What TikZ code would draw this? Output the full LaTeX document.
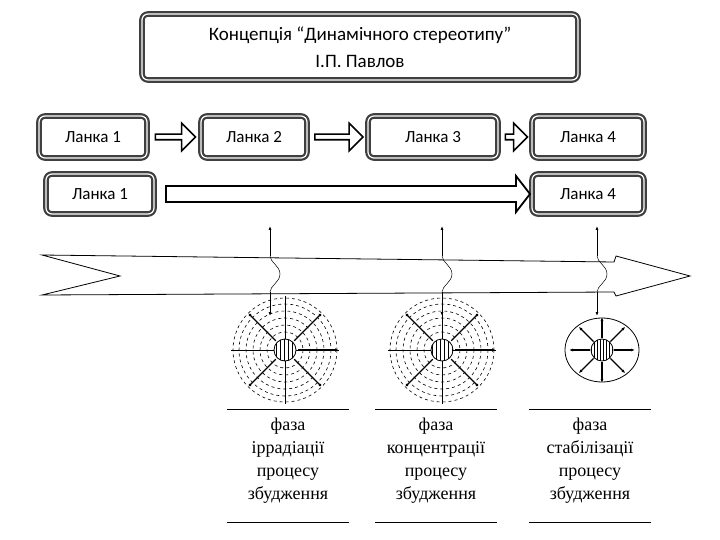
\documentclass[tikz,border=0pt]{standalone}
\usepackage{fontspec}
\setmainfont{Carlito}
\newfontfamily\serifrm{Liberation Serif}
\usetikzlibrary{shapes.arrows,arrows.meta,decorations.pathmorphing}
\begin{document}
\begin{tikzpicture}[x=1pt,y=-1pt,
  box/.style={draw=black!75,line width=2.2pt,rounded corners=6pt,double=white,double distance=1.2pt,fill=white,font=\fontsize{17}{20}\selectfont,inner sep=0pt},
  harrow/.style={draw,line width=1.6pt,fill=white,single arrow,single arrow head extend=7pt,minimum height=#1,minimum width=40pt,inner sep=2pt},
  captxt/.style={font=\serifrm\fontsize{18}{23}\selectfont,align=center},
  conn/.style={line width=1pt,-{Latex[length=4pt,width=3pt]}}]
\useasboundingbox (0,0) rectangle (720,540);
\node[box,minimum width=436pt,minimum height=66pt,align=center,font=\fontsize{19}{27}\selectfont] (t) at (360,47) {Концепція “Динамічного стереотипу”\\І.П. Павлов};
\node[box,minimum width=108pt,minimum height=42pt] (a1) at (93,137) {Ланка 1};
\node[box,minimum width=106pt,minimum height=42pt] (a2) at (254,137) {Ланка 2};
\node[box,minimum width=130pt,minimum height=42pt] (a3) at (433,137) {Ланка 3};
\node[box,minimum width=112pt,minimum height=42pt] (a4) at (588,137) {Ланка 4};
\node[box,minimum width=108pt,minimum height=40pt] (b1) at (100,194) {Ланка 1};
\node[box,minimum width=112pt,minimum height=40pt] (b4) at (588,194) {Ланка 4};
% row1 arrows
\path (a1.east) -- (a2.west) node[midway,harrow=40pt,minimum width=14pt,single arrow head extend=11pt] {};
\path (a2.east) -- (a3.west) node[midway,harrow=48pt,minimum width=14pt,single arrow head extend=11pt] {};
\path (a3.east) -- (a4.west) node[midway,harrow=22pt,minimum width=14pt,single arrow head extend=11pt,single arrow head indent=0pt] {};
% row2 long arrow
\draw[line width=1.8pt,fill=white] (166,186) -- (516,186) -- (516,176) -- (530,194) -- (516,212) -- (516,202) -- (166,202) -- cycle;
% big arrow
\draw[line width=0.8pt,fill=white] (42,255) -- (120,276) -- (42,295) -- (614,292) -- (616,296) -- (690,276) -- (616,256) -- (614,262) -- cycle;
% vertical connectors
\foreach \x/\n in {270/1,442/2,597/3}{
  \coordinate (u\n) at (\x,226); \coordinate (d\n) at (\x,316);
  \draw[conn] (\x,256) -- (u\n);
  \draw[conn] (\x,292) -- (d\n);
  \draw[line width=0.5pt] (\x,256) .. controls (\x,262) and (\x+10,266) .. (\x+10,274) .. controls (\x+10,282) and (\x,286) .. (\x,292);
}
% dashed circles
\foreach \cx/\cy in {285/350,442/350}{
  \foreach \r in {18,25,32,39,46,52} \draw[dashed,line width=0.6pt] (\cx,\cy) circle (\r);
  \draw[line width=0.5pt] (\cx-54,\cy) -- (\cx+54,\cy) (\cx,\cy-54) -- (\cx,\cy+54);
  \foreach \a in {45,135,225,315} \draw[line width=1.2pt,-{Circle[length=3pt]}] (\cx,\cy)++(\a:13) -- ++(\a:38);
  \draw[line width=1.2pt,-{Circle[length=3pt]}] (\cx+13,\cy) -- (\cx+52,\cy);
  \fill[white] (\cx,\cy) circle (11);
  \begin{scope} \clip (\cx,\cy) circle (11);
    \draw[line width=0.5pt,step=4] (\cx-12,\cy-12) grid (\cx+12,\cy+12); \end{scope}
  \draw[line width=0.8pt] (\cx,\cy) circle (11);
}
% small circle
\draw[line width=0.8pt] (602,350) ellipse (37 and 32);
\foreach \a in {0,45,...,315} \draw[line width=1.1pt,-{Latex[length=4pt,width=3pt]}] (602,350)++(\a:12) -- ++(\a:21);
\fill[white] (602,350) circle (11);
\begin{scope} \clip (602,350) circle (11);
  \draw[line width=0.5pt,step=3] (590,338) grid (614,362); \end{scope}
\draw[line width=0.8pt] (602,350) circle (11);
% captions
\foreach \x/\n/\t in {288/1/{фаза\\іррадіації\\процесу\\збудження},436/2/{фаза\\концентрації\\процесу\\збудження},590/3/{фаза\\стабілізації\\процесу\\збудження}}{
  \draw[line width=0.6pt] (\x-61,409) -- (\x+61,409) (\x-61,522) -- (\x+61,522);
  \node[captxt] (c\n) at (\x,461) {\t};
}
\end{tikzpicture}
\end{document}
